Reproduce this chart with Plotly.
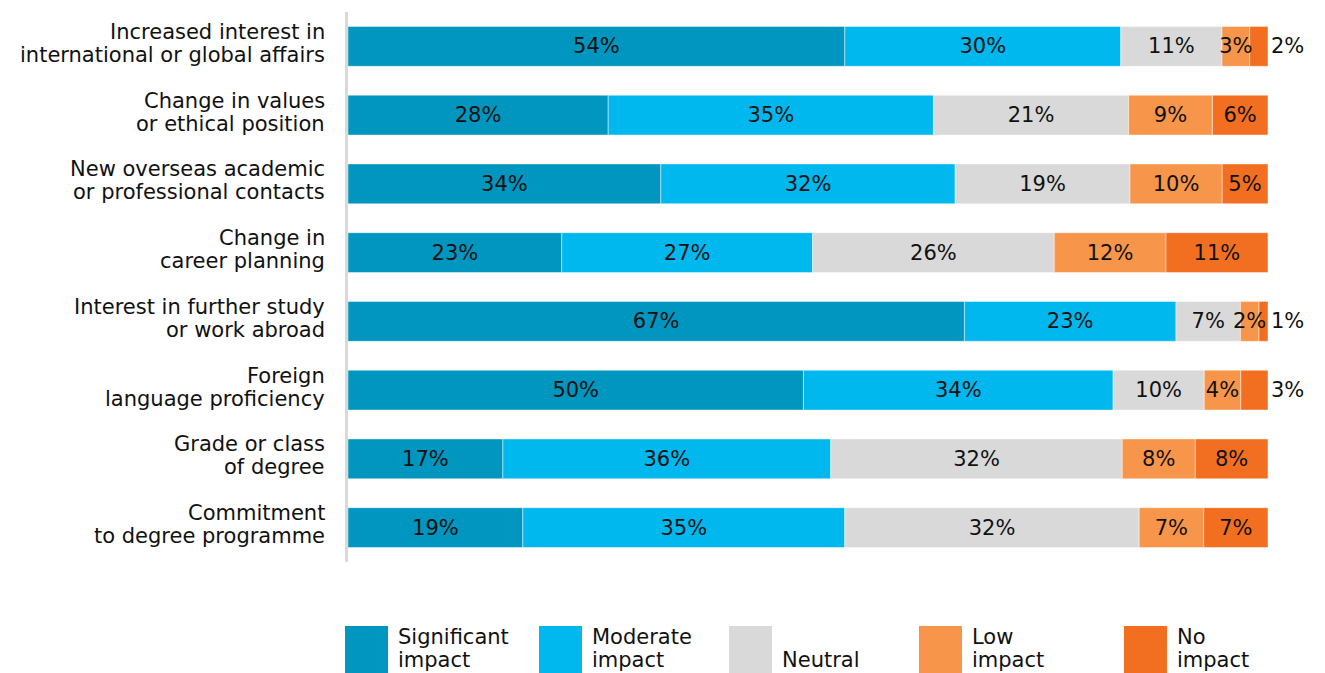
import plotly.graph_objects as go

categories = [
    "Increased interest in<br>international or global affairs",
    "Change in values<br>or ethical position",
    "New overseas academic<br>or professional contacts",
    "Change in<br>career planning",
    "Interest in further study<br>or work abroad",
    "Foreign<br>language proficiency",
    "Grade or class<br>of degree",
    "Commitment<br>to degree programme",
]
significant = [54, 28, 34, 23, 67, 50, 17, 19]
moderate = [30, 35, 32, 27, 23, 34, 36, 35]
neutral = [11, 21, 19, 26, 7, 10, 32, 32]
low = [3, 9, 10, 12, 2, 4, 8, 7]
no_impact = [2, 6, 5, 11, 1, 3, 8, 7]

series_names = ["Significant impact", "Moderate impact", "Neutral", "Low impact", "No impact"]
legend_labels = ["Significant<br>impact", "Moderate<br>impact", "<br>Neutral", "Low<br>impact", "No<br>impact"]
series_values = [significant, moderate, neutral, low, no_impact]
colors = ["#0096BF", "#00B8EE", "#D9D9D9", "#F7954A", "#F26F21"]

FONT = "'DejaVu Sans', sans-serif"
TXT = "#111111"
W, H = 1325, 673
ML, MR, MT, MB = 348, 57, 12, 111
PW, PH = W - ML - MR, H - MT - MB
LINE = 23  # px between text lines

# each row is shown as shares of its own total (100% bars)
totals = [sum(col) for col in zip(*series_values)]
shares, bases = [], []
cum = [0.0] * len(categories)
for vals in series_values:
    s = [v / t * 100 for v, t in zip(vals, totals)]
    shares.append(s)
    bases.append(cum[:])
    cum = [c + x for c, x in zip(cum, s)]

# drawing order: "Low impact" last so its small labels sit above both neighbours
draw_order = [0, 1, 2, 4, 3]

fig = go.Figure()
for i in draw_order:
    vals = series_values[i]
    last = i == len(series_names) - 1
    positions = [("outside" if (last and v < 4) else "inside") for v in vals]
    fig.add_trace(go.Bar(
        y=categories, x=shares[i], base=bases[i], name=series_names[i], orientation="h",
        marker=dict(color=colors[i], line=dict(color="rgba(255,255,255,0.45)", width=1)),
        text=[f"{v}%" for v in vals], texttemplate="%{text}",
        textposition=positions, textangle=0, constraintext="none",
        insidetextanchor="middle",
        textfont=dict(family=FONT, size=21, color=TXT),
        cliponaxis=False, showlegend=False, hoverinfo="skip",
    ))

# category labels with tight line spacing
for cat in categories:
    lines = cat.split("<br>")
    n = len(lines)
    for j, ln in enumerate(lines):
        fig.add_annotation(xref="paper", yref="y", x=0, y=cat, xanchor="right", yanchor="middle",
                           xshift=-21, yshift=((n - 1) / 2 - j) * LINE + 3, showarrow=False,
                           text=ln, font=dict(family=FONT, size=21, color=TXT))

# manual legend with large swatches
def px_x(p):
    return (p - ML) / PW

def px_y(p):
    return (H - MB - p) / PH

swatch_left = [345, 539, 729, 919, 1124]
sw, sh_top = 43, 626
for lx, lab, col in zip(swatch_left, legend_labels, colors):
    fig.add_shape(type="rect", xref="paper", yref="paper",
                  x0=px_x(lx), x1=px_x(lx + sw), y0=px_y(sh_top), y1=px_y(H + 10),
                  fillcolor=col, line=dict(width=0), layer="above")
    for j, ln in enumerate(lab.split("<br>")):
        if not ln:
            continue
        fig.add_annotation(xref="paper", yref="paper", x=px_x(lx + sw + 8),
                           y=px_y(646 + j * LINE), xanchor="left", yanchor="bottom",
                           yshift=-5, align="left", showarrow=False,
                           text=ln, font=dict(family=FONT, size=21, color=TXT))

fig.update_layout(
    width=W, height=H, barmode="overlay", bargap=0.42,
    margin=dict(l=ML, r=MR, t=MT, b=MB, autoexpand=False),
    paper_bgcolor="white", plot_bgcolor="white",
    font=dict(family=FONT, size=20, color=TXT),
    xaxis=dict(range=[0, 100.0001], visible=False, showgrid=False, fixedrange=True),
    yaxis=dict(autorange="reversed", showline=True, linecolor="#D9D9D9", linewidth=3,
               ticks="", showticklabels=False, showgrid=False, fixedrange=True),
)

fig.write_html("out.html", config={"displayModeBar": False},
               post_script="document.body.style.margin='0';")
